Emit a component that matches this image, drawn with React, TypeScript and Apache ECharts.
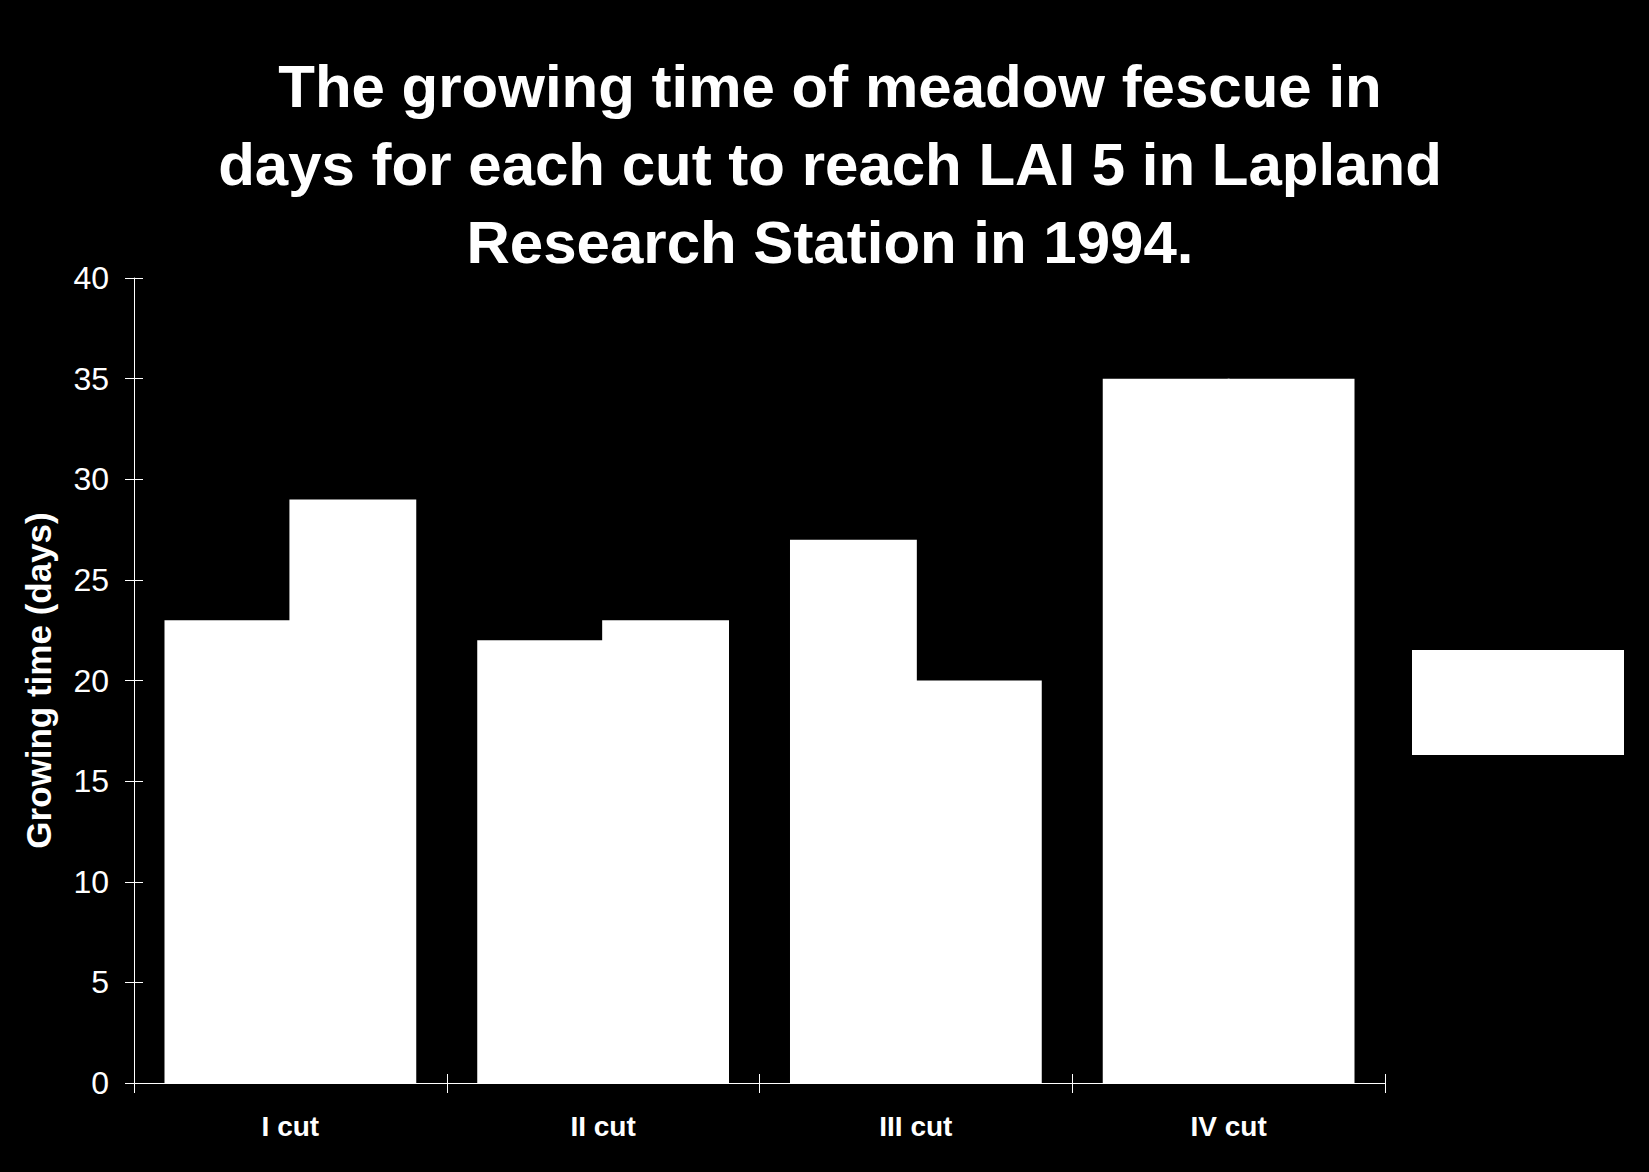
import React, { useEffect, useRef } from "react";
import * as echarts from "echarts";

const categories = ["I cut", "II cut", "III cut", "IV cut"];
const seriesA = [23, 22, 27, 35];
const seriesB = [29, 23, 20, 35];
const yTicks = { min: 0, max: 40, interval: 5 };
const titleLines = [
  "The growing time of meadow fescue in",
  "days for each cut to reach LAI 5 in Lapland",
  "Research Station in 1994.",
];
const yName = "Growing time (days)";

const FONT = "'Liberation Sans', Arial, Helvetica, sans-serif";

export default function App() {
  const ref = useRef<HTMLDivElement>(null);
  useEffect(() => {
    document.body.style.margin = "0";
    document.body.style.background = "#000";
    const chart = echarts.init(ref.current!, null, { renderer: "svg" });
    const barStyle = { color: "#ffffff", borderColor: "#ffffff", borderWidth: 0 };
    chart.setOption({
      animation: false,
      backgroundColor: "#000000",
      graphic: [
        {
          type: "text",
          x: 830,
          y: 47,
          style: {
            text: titleLines.join("\n"),
            fill: "#ffffff",
            font: `bold 60px ${FONT}`,
            textAlign: "center",
            textVerticalAlign: "top",
            lineHeight: 78,
          },
        },
        {
          type: "rect",
          shape: { x: 1412, y: 650, width: 212, height: 105 },
          style: { fill: "#ffffff" },
        },
      ],
      grid: { left: 134, top: 278, right: 264, bottom: 89 },
      xAxis: [
        {
          type: "category",
          data: categories,
          boundaryGap: true,
          axisLine: { lineStyle: { color: "#ffffff", width: 1 } },
          axisTick: { show: true, length: 10, lineStyle: { color: "#ffffff" } },
          axisLabel: {
            color: "#ffffff",
            fontSize: 28,
            fontWeight: "bold",
            fontFamily: FONT,
            margin: 29,
          },
          z: 10,
        },
        {
          type: "category",
          data: categories,
          position: "bottom",
          boundaryGap: true,
          axisLine: { show: false },
          axisTick: { show: true, inside: true, length: 9, lineStyle: { color: "#ffffff" } },
          axisLabel: { show: false },
          z: 10,
        },
      ],
      yAxis: [
        {
          type: "value",
          min: yTicks.min,
          max: yTicks.max,
          interval: yTicks.interval,
          name: yName,
          nameLocation: "middle",
          nameGap: 78,
          nameTextStyle: {
            color: "#ffffff",
            fontSize: 35,
            fontWeight: "bold",
            fontFamily: FONT,
          },
          axisLine: { show: true, lineStyle: { color: "#ffffff", width: 1 } },
          axisTick: { show: true, length: 9, lineStyle: { color: "#ffffff" } },
          splitLine: { show: false },
          axisLabel: {
            color: "#ffffff",
            fontSize: 32,
            fontFamily: FONT,
            margin: 25,
          },
          z: 10,
        },
        {
          type: "value",
          min: yTicks.min,
          max: yTicks.max,
          interval: yTicks.interval,
          position: "left",
          axisLine: { show: false },
          axisTick: { show: true, inside: true, length: 9, lineStyle: { color: "#ffffff" } },
          splitLine: { show: false },
          axisLabel: { show: false },
          z: 10,
        },
      ],
      series: [
        {
          name: "Series 1",
          type: "bar",
          data: seriesA,
          itemStyle: barStyle,
          barGap: "-1.5%",
          barCategoryGap: "19.5%",
        },
        {
          name: "Series 2",
          type: "bar",
          data: seriesB,
          itemStyle: barStyle,
          barGap: "-1.5%",
          barCategoryGap: "19.5%",
        },
      ],
    });
    return () => chart.dispose();
  }, []);
  return <div ref={ref} style={{ width: 1649, height: 1172 }} />;
}
